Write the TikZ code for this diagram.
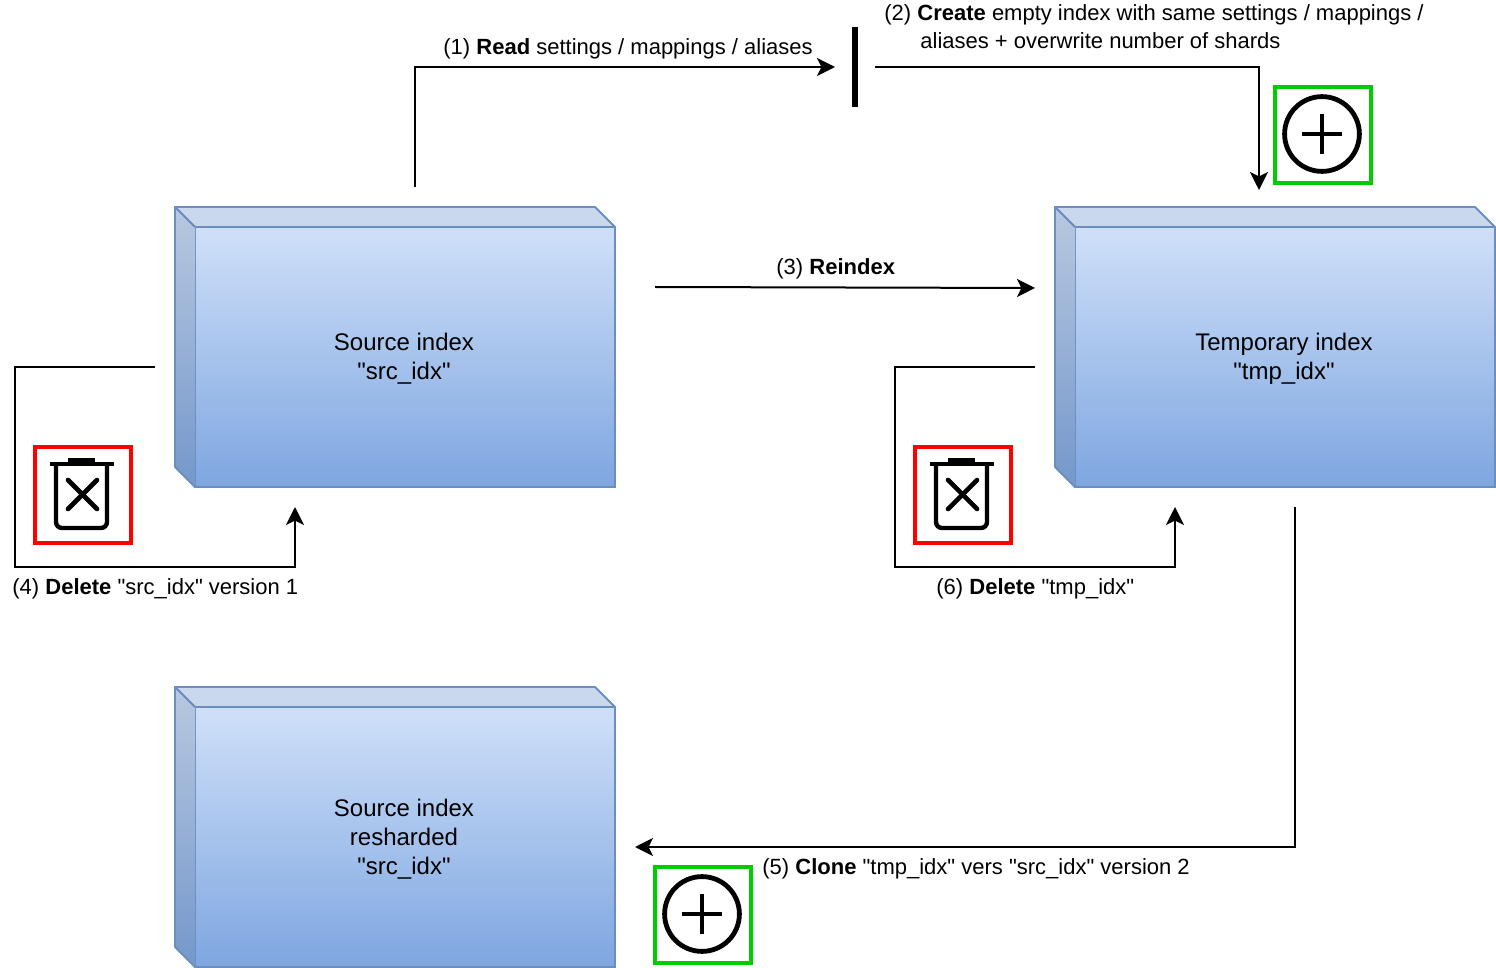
\documentclass[tikz,border=0pt]{standalone}
\usepackage{fontspec}
\newfontfamily\plainfont{Liberation Sans}
\usetikzlibrary{arrows.meta}
\definecolor{cubetop}{HTML}{CFE0F9}
\definecolor{cubebot}{HTML}{7EA6E0}
\definecolor{cubeline}{HTML}{6C8EBF}
\definecolor{cubelid}{HTML}{C9D8EC}
\definecolor{sidetop}{HTML}{B8C9E0}
\definecolor{sidebot}{HTML}{7597CB}
\definecolor{plusgreen}{HTML}{00CC00}
\tikzset{
	cubebox/.style={draw=cubeline, line width=0.9pt, top color=cubetop, bottom color=cubebot, minimum width=210pt, minimum height=130pt, inner sep=0pt, outer sep=0pt},
	cubetext/.style={inner sep=0pt, align=center, font=\fontsize{12}{14.5}\plainfont},
	iconbox/.style={draw=#1, line width=1.6pt, minimum size=48pt, inner sep=0pt},
	link/.style={line width=1pt},
	linkarrow/.style={link, -{Stealth[length=9pt,width=9pt,inset=2.2pt]}},
	steplabel/.style={anchor=west, inner sep=0pt, align=left, font=\fontsize{11}{14}\plainfont},
	pics/trashicon/.style={code={
		\draw[line width=2.2pt, rounded corners=3pt] (-27,-31) -- (-27,33) -- (24,33) -- (24,-31);
		\draw[line width=2.2pt] (-33,-31) -- (31,-31);
		\draw[line width=2.4pt] (-15,-35) -- (12,-35);
		\draw[line width=2.3pt, line cap=round] (-15,-15) -- (14,14);
		\draw[line width=2.3pt, line cap=round] (-15,14) -- (14,-15);
	}},
	pics/plusicon/.style={code={
		\draw[line width=2.4pt] (-1,-1) circle (18.7pt);
		\draw[line width=2.4pt] (-21,-1) -- (19,-1);
		\draw[line width=2.4pt] (-1,-21) -- (-1,19);
	}}
}
% side faces of a box, beside its node
\newcommand{\cubefaces}[1]{
	\filldraw[draw=cubeline, line width=0.9pt, line join=round, fill=cubelid] (#1.north west) -- ++(-20,-20) -- ++(420,0) -- (#1.north east) -- cycle;
	\shade[top color=sidetop, bottom color=sidebot] (#1.north west) -- ++(-20,-20) -- ++(0,260) -- (#1.south west) -- cycle;
	\draw[cubeline, line width=0.9pt, line join=round] (#1.north west) -- ++(-20,-20) -- ++(0,260) -- (#1.south west);
}
\begin{document}
\begin{tikzpicture}[x=0.5pt,y=-0.5pt]
	\useasboundingbox (0,0) rectangle (1496,968);
	% index boxes
	\node[cubebox] (srcidx) at (405,357) {};
	\node[cubebox] (tmpidx) at (1285,357) {};
	\node[cubebox] (newidx) at (405,837) {};
	\cubefaces{srcidx}
	\cubefaces{tmpidx}
	\cubefaces{newidx}
	\node[cubetext] (srctext) at (404,359) {Source index\\"src\_idx"};
	\node[cubetext] (tmptext) at (1284,359) {Temporary index\\"tmp\_idx"};
	\node[cubetext] (newtext) at (404,839) {Source index\\resharded\\"src\_idx"};
	% icons
	\foreach \name\x\y in {trashsrc/83/495,trashtmp/963/495}{
		\node[iconbox=red] (\name) at (\x,\y) {};
		\pic at (\x,\y) {trashicon};
	}
	\foreach \name\x\y in {plustmp/1323/135,plusnew/703/915}{
		\node[iconbox=plusgreen] (\name) at (\x,\y) {};
		\pic at (\x,\y) {plusicon};
	}
	\node[fill=black, minimum width=3pt, minimum height=40pt, inner sep=0pt] (readbar) at (855,67) {};
	% free ends of the connectors
	\foreach \name\x\y in {readfrom/415/187,readto/835/67,createfrom/875/67,createto/1259/190,
		reindexfrom/655/287,reindexto/1035/288,delsrcfrom/155/367,delsrcto/295/507,
		deltmpfrom/1035/367,deltmpto/1175/507,clonefrom/1295/507,cloneto/635/847}{
		\coordinate (\name) at (\x,\y);
	}
	\draw[linkarrow] (readfrom) |- (readto);
	\draw[linkarrow] (createfrom) -| (createto);
	\draw[linkarrow] (reindexfrom) -- (reindexto);
	\draw[linkarrow] (delsrcfrom) -- (15,367) -- (15,567) -| (delsrcto);
	\draw[linkarrow] (deltmpfrom) -- (895,367) -- (895,567) -| (deltmpto);
	\draw[linkarrow] (clonefrom) |- (cloneto);
	% labels
	\node[steplabel] (readlabel) at (443,49) {(1) \textbf{Read} settings / mappings / aliases};
	\node[steplabel] (createlabel) at (884,27) {(2) \textbf{Create} empty index with same settings / mappings /\\\hspace*{18pt}aliases + overwrite number of shards};
	\node[steplabel] (reindexlabel) at (776,269) {(3) \textbf{Reindex}};
	\node[steplabel] (delsrclabel) at (12,589) {(4) \textbf{Delete} "src\_idx" version 1};
	\node[steplabel] (clonelabel) at (762,869) {(5) \textbf{Clone} "tmp\_idx" vers "src\_idx" version 2};
	\node[steplabel] (deltmplabel) at (936,589) {(6) \textbf{Delete} "tmp\_idx"};
\end{tikzpicture}
\end{document}
